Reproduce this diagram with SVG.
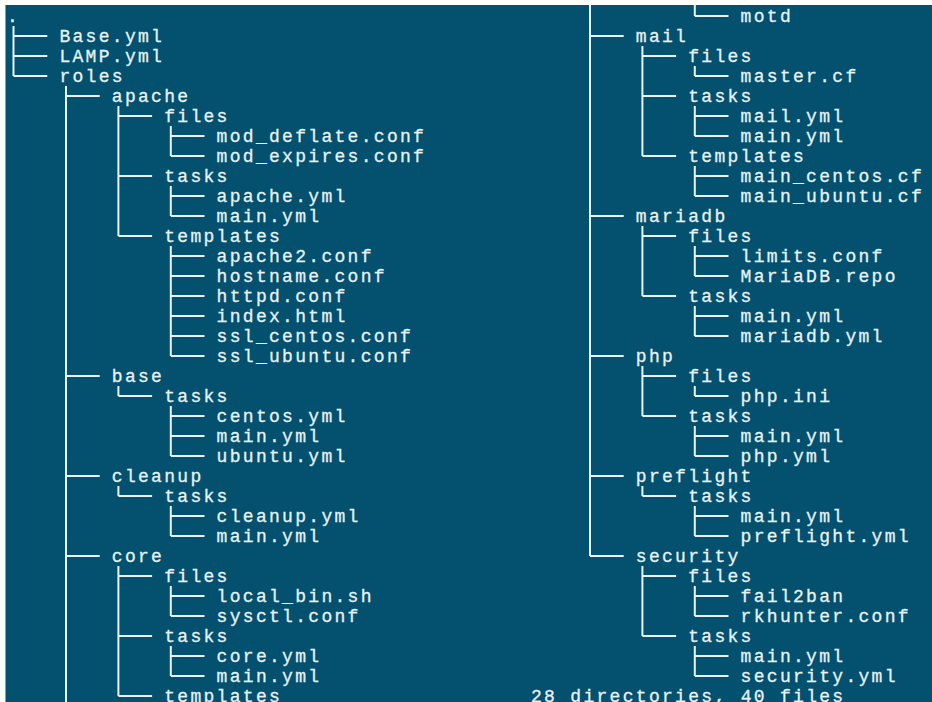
<svg xmlns="http://www.w3.org/2000/svg" width="932" height="702" viewBox="0 0 932 702">
  <style>
    .t { font-family: "Liberation Mono", "DejaVu Sans Mono", monospace; font-size: 18px; letter-spacing: 2.3px; fill: #e6f3f7; stroke: #e6f3f7; stroke-width: 0.3px; }
    .ln { fill: none; stroke: #e6f3f7; stroke-width: 2; }
  </style>
  <!-- page margin and terminal background -->
  <rect x="0" y="0" width="932" height="702" fill="#ffffff"/>
  <rect x="5" y="5" width="1" height="697" fill="#8a9aa6"/>
  <rect x="6" y="5" width="926" height="697" fill="#03506f"/>

  <!-- tree branches -->
  <g id="connectors" class="ln">
    <!-- left column -->
    <path d="M13.5,26 V76 M13.5,36 H47.3 M13.5,56 H47.3 M13.5,76 H47.3"/>
    <path d="M66,86 V702 M66,96 H99.7 M66,376 H99.7 M66,476 H99.7 M66,556 H99.7"/>
    <path d="M118.4,106 V236 M118.4,116 H152.1 M118.4,176 H152.1 M118.4,236 H152.1"/>
    <path d="M170.8,126 V156 M170.8,136 H204.5 M170.8,156 H204.5"/>
    <path d="M170.8,186 V216 M170.8,196 H204.5 M170.8,216 H204.5"/>
    <path d="M170.8,246 V356 M170.8,256 H204.5 M170.8,276 H204.5 M170.8,296 H204.5 M170.8,316 H204.5 M170.8,336 H204.5 M170.8,356 H204.5"/>
    <path d="M118.4,386 V396 M118.4,396 H152.1"/>
    <path d="M170.8,406 V456 M170.8,416 H204.5 M170.8,436 H204.5 M170.8,456 H204.5"/>
    <path d="M118.4,486 V496 M118.4,496 H152.1"/>
    <path d="M170.8,506 V536 M170.8,516 H204.5 M170.8,536 H204.5"/>
    <path d="M118.4,566 V696 M118.4,576 H152.1 M118.4,636 H152.1 M118.4,696 H152.1"/>
    <path d="M170.8,586 V616 M170.8,596 H204.5 M170.8,616 H204.5"/>
    <path d="M170.8,646 V676 M170.8,656 H204.5 M170.8,676 H204.5"/>
    <!-- right column -->
    <path d="M590,5 V556 M590,36 H623.7 M590,216 H623.7 M590,356 H623.7 M590,476 H623.7 M590,556 H623.7"/>
    <path d="M694.8,5 V16 M694.8,16 H728.5"/>
    <path d="M642.4,46 V156 M642.4,56 H676.1 M642.4,96 H676.1 M642.4,156 H676.1"/>
    <path d="M694.8,66 V76 M694.8,76 H728.5"/>
    <path d="M694.8,106 V136 M694.8,116 H728.5 M694.8,136 H728.5"/>
    <path d="M694.8,166 V196 M694.8,176 H728.5 M694.8,196 H728.5"/>
    <path d="M642.4,226 V296 M642.4,236 H676.1 M642.4,296 H676.1"/>
    <path d="M694.8,246 V276 M694.8,256 H728.5 M694.8,276 H728.5"/>
    <path d="M694.8,306 V336 M694.8,316 H728.5 M694.8,336 H728.5"/>
    <path d="M642.4,366 V416 M642.4,376 H676.1 M642.4,416 H676.1"/>
    <path d="M694.8,386 V396 M694.8,396 H728.5"/>
    <path d="M694.8,426 V456 M694.8,436 H728.5 M694.8,456 H728.5"/>
    <path d="M642.4,486 V496 M642.4,496 H676.1"/>
    <path d="M694.8,506 V536 M694.8,516 H728.5 M694.8,536 H728.5"/>
    <path d="M642.4,566 V636 M642.4,576 H676.1 M642.4,636 H676.1"/>
    <path d="M694.8,586 V616 M694.8,596 H728.5 M694.8,616 H728.5"/>
    <path d="M694.8,646 V676 M694.8,656 H728.5 M694.8,676 H728.5"/>
  </g>

  <!-- left column entries -->
  <g id="root"><text class="t" x="7" y="22">.</text></g>
  <g id="base-yml"><text class="t" x="59.4" y="42">Base.yml</text></g>
  <g id="lamp-yml"><text class="t" x="59.4" y="62">LAMP.yml</text></g>
  <g id="roles"><text class="t" x="59.4" y="82">roles</text></g>
  <g id="apache"><text class="t" x="111.8" y="102">apache</text></g>
  <g id="apache-files"><text class="t" x="164.2" y="122">files</text></g>
  <g id="apache-mod-deflate"><text class="t" x="216.6" y="142">mod_deflate.conf</text></g>
  <g id="apache-mod-expires"><text class="t" x="216.6" y="162">mod_expires.conf</text></g>
  <g id="apache-tasks"><text class="t" x="164.2" y="182">tasks</text></g>
  <g id="apache-apache-yml"><text class="t" x="216.6" y="202">apache.yml</text></g>
  <g id="apache-main-yml"><text class="t" x="216.6" y="222">main.yml</text></g>
  <g id="apache-templates"><text class="t" x="164.2" y="242">templates</text></g>
  <g id="apache-apache2-conf"><text class="t" x="216.6" y="262">apache2.conf</text></g>
  <g id="apache-hostname-conf"><text class="t" x="216.6" y="282">hostname.conf</text></g>
  <g id="apache-httpd-conf"><text class="t" x="216.6" y="302">httpd.conf</text></g>
  <g id="apache-index-html"><text class="t" x="216.6" y="322">index.html</text></g>
  <g id="apache-ssl-centos"><text class="t" x="216.6" y="342">ssl_centos.conf</text></g>
  <g id="apache-ssl-ubuntu"><text class="t" x="216.6" y="362">ssl_ubuntu.conf</text></g>
  <g id="base"><text class="t" x="111.8" y="382">base</text></g>
  <g id="base-tasks"><text class="t" x="164.2" y="402">tasks</text></g>
  <g id="base-centos-yml"><text class="t" x="216.6" y="422">centos.yml</text></g>
  <g id="base-main-yml"><text class="t" x="216.6" y="442">main.yml</text></g>
  <g id="base-ubuntu-yml"><text class="t" x="216.6" y="462">ubuntu.yml</text></g>
  <g id="cleanup"><text class="t" x="111.8" y="482">cleanup</text></g>
  <g id="cleanup-tasks"><text class="t" x="164.2" y="502">tasks</text></g>
  <g id="cleanup-cleanup-yml"><text class="t" x="216.6" y="522">cleanup.yml</text></g>
  <g id="cleanup-main-yml"><text class="t" x="216.6" y="542">main.yml</text></g>
  <g id="core"><text class="t" x="111.8" y="562">core</text></g>
  <g id="core-files"><text class="t" x="164.2" y="582">files</text></g>
  <g id="core-local-bin"><text class="t" x="216.6" y="602">local_bin.sh</text></g>
  <g id="core-sysctl-conf"><text class="t" x="216.6" y="622">sysctl.conf</text></g>
  <g id="core-tasks"><text class="t" x="164.2" y="642">tasks</text></g>
  <g id="core-core-yml"><text class="t" x="216.6" y="662">core.yml</text></g>
  <g id="core-main-yml"><text class="t" x="216.6" y="682">main.yml</text></g>
  <g id="core-templates"><text class="t" x="164.2" y="702">templates</text></g>

  <!-- right column entries -->
  <g id="core-motd"><text class="t" x="740.6" y="22">motd</text></g>
  <g id="mail"><text class="t" x="635.8" y="42">mail</text></g>
  <g id="mail-files"><text class="t" x="688.2" y="62">files</text></g>
  <g id="mail-master-cf"><text class="t" x="740.6" y="82">master.cf</text></g>
  <g id="mail-tasks"><text class="t" x="688.2" y="102">tasks</text></g>
  <g id="mail-mail-yml"><text class="t" x="740.6" y="122">mail.yml</text></g>
  <g id="mail-main-yml"><text class="t" x="740.6" y="142">main.yml</text></g>
  <g id="mail-templates"><text class="t" x="688.2" y="162">templates</text></g>
  <g id="mail-main-centos"><text class="t" x="740.6" y="182">main_centos.cf</text></g>
  <g id="mail-main-ubuntu"><text class="t" x="740.6" y="202">main_ubuntu.cf</text></g>
  <g id="mariadb"><text class="t" x="635.8" y="222">mariadb</text></g>
  <g id="mariadb-files"><text class="t" x="688.2" y="242">files</text></g>
  <g id="mariadb-limits-conf"><text class="t" x="740.6" y="262">limits.conf</text></g>
  <g id="mariadb-repo"><text class="t" x="740.6" y="282">MariaDB.repo</text></g>
  <g id="mariadb-tasks"><text class="t" x="688.2" y="302">tasks</text></g>
  <g id="mariadb-main-yml"><text class="t" x="740.6" y="322">main.yml</text></g>
  <g id="mariadb-mariadb-yml"><text class="t" x="740.6" y="342">mariadb.yml</text></g>
  <g id="php"><text class="t" x="635.8" y="362">php</text></g>
  <g id="php-files"><text class="t" x="688.2" y="382">files</text></g>
  <g id="php-php-ini"><text class="t" x="740.6" y="402">php.ini</text></g>
  <g id="php-tasks"><text class="t" x="688.2" y="422">tasks</text></g>
  <g id="php-main-yml"><text class="t" x="740.6" y="442">main.yml</text></g>
  <g id="php-php-yml"><text class="t" x="740.6" y="462">php.yml</text></g>
  <g id="preflight"><text class="t" x="635.8" y="482">preflight</text></g>
  <g id="preflight-tasks"><text class="t" x="688.2" y="502">tasks</text></g>
  <g id="preflight-main-yml"><text class="t" x="740.6" y="522">main.yml</text></g>
  <g id="preflight-preflight-yml"><text class="t" x="740.6" y="542">preflight.yml</text></g>
  <g id="security"><text class="t" x="635.8" y="562">security</text></g>
  <g id="security-files"><text class="t" x="688.2" y="582">files</text></g>
  <g id="security-fail2ban"><text class="t" x="740.6" y="602">fail2ban</text></g>
  <g id="security-rkhunter"><text class="t" x="740.6" y="622">rkhunter.conf</text></g>
  <g id="security-tasks"><text class="t" x="688.2" y="642">tasks</text></g>
  <g id="security-main-yml"><text class="t" x="740.6" y="662">main.yml</text></g>
  <g id="security-security-yml"><text class="t" x="740.6" y="682">security.yml</text></g>
  <g id="summary"><text class="t" x="531" y="702">28 directories, 40 files</text></g>
</svg>
